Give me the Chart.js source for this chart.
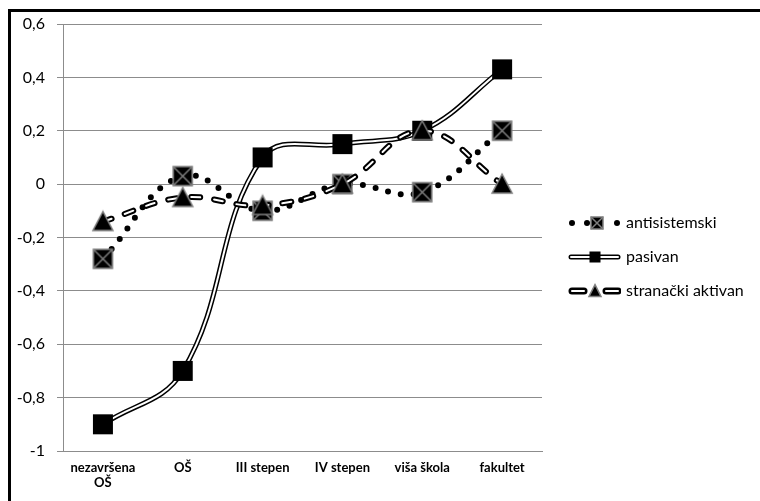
<!DOCTYPE html>
<html>
<head>
<meta charset="utf-8">
<script src="https://cdn.jsdelivr.net/npm/chart.js@4"></script>
<style>
  html, body { margin: 0; padding: 0; background: #fff; overflow: hidden; }
  #wrap { position: relative; width: 760px; height: 501px; }
  #frame { position: absolute; left: 8px; top: 9px; width: 800px; height: 600px;
           border: 3px solid #000; pointer-events: none; }
</style>
</head>
<body>
<div id="wrap">
  <canvas id="chart" width="760" height="501"></canvas>
  <div id="frame"></div>
</div>
<script>
// categories and values
const categories = [["nezavršena", "OŠ"], "OŠ", "III stepen", "IV stepen", "viša škola", "fakultet"];
const seriesNames = ["antisistemski", "pasivan", "stranački aktivan"];
const antisistemski = [-0.28, 0.03, -0.1, 0.0, -0.03, 0.2];
const pasivan = [-0.9, -0.7, 0.1, 0.15, 0.2, 0.43];
const stranackiAktivan = [-0.14, -0.05, -0.08, 0.0, 0.2, 0.0];
const yMin = -1, yMax = 0.6, yStep = 0.2;

const GRID = "#8c8c8c";
const MARK_EDGE = "#7f7f7f";
const TENSION = 0.4;

function makeCanvas(w, h) {
  let c = document.createElement("canvas");
  c.width = w; c.height = h;
  return c;
}

// marker shapes drawn on small canvases
function drawCrossSquare(ctx, cx, cy, s) {
  let h = s / 2;
  ctx.fillStyle = "#000";
  ctx.fillRect(cx - h, cy - h, s, s);
  ctx.strokeStyle = MARK_EDGE;
  ctx.lineWidth = 1.5;
  ctx.strokeRect(cx - h, cy - h, s, s);
  ctx.beginPath();
  ctx.moveTo(cx - h, cy - h); ctx.lineTo(cx + h, cy + h);
  ctx.moveTo(cx + h, cy - h); ctx.lineTo(cx - h, cy + h);
  ctx.stroke();
}
function drawSquare(ctx, cx, cy, s) {
  ctx.fillStyle = "#000";
  ctx.fillRect(cx - s / 2, cy - s / 2, s, s);
}
function drawTriangle(ctx, cx, cy, s) {
  let h = s * 0.9;
  ctx.beginPath();
  ctx.moveTo(cx, cy - h / 2 - 1);
  ctx.lineTo(cx + s / 2, cy + h / 2);
  ctx.lineTo(cx - s / 2, cy + h / 2);
  ctx.closePath();
  ctx.fillStyle = "#000";
  ctx.fill();
  ctx.strokeStyle = MARK_EDGE;
  ctx.lineWidth = 1.5;
  ctx.stroke();
}

function markerImage(fn, s) {
  let c = makeCanvas(s + 4, s + 4);
  fn(c.getContext("2d"), (s + 4) / 2, (s + 4) / 2, s);
  return c;
}
const crossSqImg = markerImage(drawCrossSquare, 19);
const squareImg = markerImage(drawSquare, 20);
const triangleImg = markerImage(drawTriangle, 20);

// legend samples (line + marker)
const SW = 64, SH = 18, S0 = 12;
function legendAnti() {
  let c = makeCanvas(SW, SH), ctx = c.getContext("2d"), y = SH / 2;
  ctx.fillStyle = "#000";
  [S0 + 3, S0 + 18, S0 + 48].forEach((x) => {
    ctx.beginPath(); ctx.arc(x, y, 3, 0, Math.PI * 2); ctx.fill();
  });
  drawCrossSquare(ctx, S0 + 28, y, 12);
  return c;
}
function legendPasivan() {
  let c = makeCanvas(SW, SH), ctx = c.getContext("2d"), y = SH / 2;
  ctx.lineCap = "round";
  ctx.beginPath(); ctx.moveTo(S0 + 2, y); ctx.lineTo(SW - 3, y);
  ctx.strokeStyle = "#000"; ctx.lineWidth = 5; ctx.stroke();
  ctx.strokeStyle = "#fff"; ctx.lineWidth = 2; ctx.stroke();
  drawSquare(ctx, S0 + 26, y, 11);
  return c;
}
function legendStranacki() {
  let c = makeCanvas(SW, SH), ctx = c.getContext("2d"), y = SH / 2;
  ctx.lineCap = "round";
  [[S0 + 3, S0 + 15], [S0 + 37, S0 + 49]].forEach(([a, b]) => {
    ctx.beginPath(); ctx.moveTo(a, y); ctx.lineTo(b, y);
    ctx.strokeStyle = "#000"; ctx.lineWidth = 7; ctx.stroke();
    ctx.strokeStyle = "#fff"; ctx.lineWidth = 2; ctx.stroke();
  });
  drawTriangle(ctx, S0 + 26, y, 12);
  return c;
}
const legendImgs = [legendAnti(), legendPasivan(), legendStranacki()];

// legend sizing so the plot ends at x=542
const LEG_FONT = 16, LEG_PAD = 18, LEG_BOX = 58, LEG_W = 760 - 542;
let mctx = makeCanvas(10, 10).getContext("2d");
mctx.font = LEG_FONT + "px Lato";
let maxText = Math.max(...seriesNames.map((t) => mctx.measureText(t).width));
let legWidth = LEG_PAD + LEG_BOX + LEG_FONT / 2 + maxText + 10;
let padRight = Math.max(0, LEG_W - legWidth);

function lineSet(data, color, width, order, extra) {
  return Object.assign({
    data: data,
    borderColor: color,
    borderWidth: width,
    pointRadius: 0,
    pointHoverRadius: 0,
    tension: TENSION,
    fill: false,
    order: order,
    clip: false,
  }, extra || {});
}
function markerSet(data, img, order) {
  return {
    data: data,
    showLine: false,
    pointStyle: img,
    pointRadius: 10,
    order: order,
    clip: false,
  };
}

const datasets = [
  lineSet(antisistemski, "#000", 6, 8, { borderDash: [0, 13], borderCapStyle: "round" }),
  markerSet(antisistemski, crossSqImg, 7),
  lineSet(pasivan, "#000", 5, 6),
  lineSet(pasivan, "#fff", 2, 5),
  markerSet(pasivan, squareImg, 4),
  lineSet(stranackiAktivan, "#000", 6, 3, { borderDash: [9, 14], borderCapStyle: "round" }),
  lineSet(stranackiAktivan, "#fff", 2, 2, { borderDash: [9, 14], borderCapStyle: "round" }),
  markerSet(stranackiAktivan, triangleImg, 1),
];

function fmt(v) {
  let r = Math.round(v * 10) / 10;
  return String(r).replace(".", ",");
}

new Chart(document.getElementById("chart").getContext("2d"), {
  type: "line",
  data: { labels: categories, datasets: datasets },
  options: {
    responsive: false,
    animation: false,
    devicePixelRatio: 1,
    layout: { padding: { top: 24, bottom: 11, left: 0, right: padRight } },
    plugins: {
      tooltip: { enabled: false },
      legend: {
        position: "right",
        maxWidth: LEG_W,
        labels: {
          usePointStyle: true,
          pointStyleWidth: LEG_BOX,
          padding: LEG_PAD,
          color: "#000",
          font: { family: "Lato", size: LEG_FONT },
          generateLabels: () =>
            seriesNames.map((name, i) => ({
              text: name,
              pointStyle: legendImgs[i],
              fillStyle: "#000",
              strokeStyle: "#000",
              lineWidth: 0,
              hidden: false,
              datasetIndex: i,
            })),
        },
      },
    },
    scales: {
      x: {
        offset: true,
        grid: { display: false, drawTicks: false },
        border: { display: true, color: GRID, width: 1 },
        ticks: {
          color: "#000",
          padding: 9,
          maxRotation: 0,
          autoSkip: false,
          font: { family: "Lato", size: 13, weight: "bold", lineHeight: 1.15 },
        },
        afterFit: (scale) => { scale.height = 39; },
      },
      y: {
        min: yMin,
        max: yMax,
        grid: { color: GRID, lineWidth: 1, drawTicks: true, tickLength: 6 },
        border: { display: true, color: GRID, width: 1 },
        ticks: {
          stepSize: yStep,
          color: "#000",
          padding: 12,
          font: { family: "Lato", size: 16 },
          callback: (v) => fmt(v),
        },
        afterFit: (scale) => { scale.width = 63; },
      },
    },
  },
});
</script>
</body>
</html>
